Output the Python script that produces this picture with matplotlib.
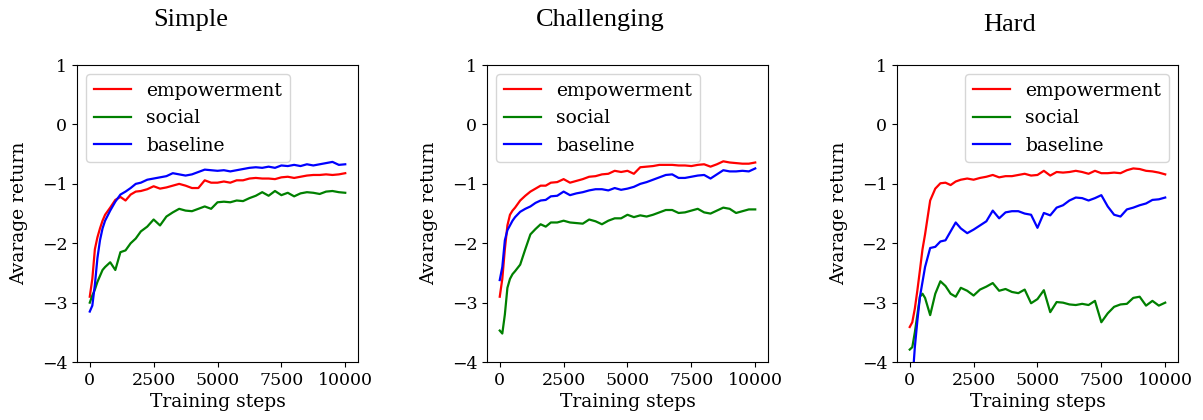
import numpy as np
import matplotlib.pyplot as plt

steps = [0, 100, 200, 300, 400, 500, 600, 800, 1000, 1200, 1400, 1600, 1800, 2000,
         2250, 2500, 2750, 3000, 3250, 3500, 3750, 4000, 4250, 4500, 4750, 5000,
         5250, 5500, 5750, 6000, 6250, 6500, 6750, 7000, 7250, 7500, 7750, 8000,
         8250, 8500, 8750, 9000, 9250, 9500, 9750, 10000]

titles = ["Simple", "Challenging", "Hard"]
labels = ["empowerment", "social", "baseline"]
colors = ["red", "green", "blue"]

# --- Simple ---
simple_emp = [-2.90, -2.60, -2.10, -1.90, -1.75, -1.62, -1.52, -1.40, -1.27, -1.22, -1.28, -1.18,
              -1.13, -1.12, -1.09, -1.04, -1.08, -1.06, -1.03, -1.00, -1.03, -1.07, -1.07, -0.94,
              -0.98, -0.98, -0.96, -0.98, -0.94, -0.94, -0.91, -0.90, -0.91, -0.91, -0.92, -0.89,
              -0.88, -0.90, -0.88, -0.86, -0.85, -0.85, -0.84, -0.85, -0.84, -0.82]
simple_soc = [-3.00, -2.88, -2.78, -2.65, -2.55, -2.45, -2.40, -2.32, -2.45, -2.15, -2.12, -2.00,
              -1.92, -1.80, -1.72, -1.60, -1.70, -1.55, -1.48, -1.42, -1.45, -1.46, -1.42, -1.38,
              -1.42, -1.31, -1.30, -1.31, -1.28, -1.29, -1.24, -1.20, -1.14, -1.20, -1.12, -1.19,
              -1.15, -1.21, -1.16, -1.14, -1.15, -1.17, -1.13, -1.12, -1.14, -1.15]
simple_base = [-3.15, -3.05, -2.70, -2.25, -1.95, -1.75, -1.62, -1.45, -1.30, -1.18, -1.13, -1.07,
               -1.00, -0.98, -0.93, -0.91, -0.89, -0.87, -0.82, -0.84, -0.86, -0.84, -0.80, -0.76,
               -0.77, -0.78, -0.77, -0.79, -0.77, -0.75, -0.73, -0.72, -0.73, -0.71, -0.73, -0.69,
               -0.70, -0.68, -0.70, -0.67, -0.69, -0.67, -0.65, -0.63, -0.68, -0.67]

# --- Challenging ---
chal_emp = [-2.90, -2.60, -2.10, -1.70, -1.52, -1.45, -1.40, -1.28, -1.20, -1.13, -1.08, -1.03,
            -1.03, -0.98, -0.97, -0.92, -0.98, -0.95, -0.92, -0.88, -0.87, -0.84, -0.83, -0.78,
            -0.80, -0.78, -0.83, -0.72, -0.71, -0.70, -0.68, -0.68, -0.68, -0.69, -0.69, -0.70,
            -0.68, -0.67, -0.71, -0.67, -0.62, -0.64, -0.65, -0.66, -0.66, -0.64]
chal_soc = [-3.47, -3.52, -3.20, -2.75, -2.60, -2.52, -2.47, -2.36, -2.10, -1.85, -1.76, -1.68,
            -1.72, -1.65, -1.65, -1.62, -1.65, -1.66, -1.67, -1.60, -1.63, -1.68, -1.62, -1.58,
            -1.58, -1.52, -1.56, -1.53, -1.55, -1.52, -1.48, -1.44, -1.44, -1.49, -1.48, -1.45,
            -1.42, -1.48, -1.50, -1.45, -1.40, -1.42, -1.49, -1.46, -1.43, -1.43]
chal_base = [-2.62, -2.40, -1.95, -1.78, -1.70, -1.62, -1.56, -1.47, -1.42, -1.38, -1.32, -1.28,
             -1.27, -1.21, -1.20, -1.13, -1.19, -1.16, -1.14, -1.11, -1.09, -1.09, -1.11, -1.07,
             -1.10, -1.08, -1.05, -1.00, -0.97, -0.93, -0.89, -0.85, -0.84, -0.90, -0.90, -0.88,
             -0.86, -0.85, -0.91, -0.84, -0.77, -0.79, -0.79, -0.78, -0.79, -0.74]

# --- Hard ---
hard_emp = [-3.41, -3.33, -3.10, -2.79, -2.45, -2.10, -1.85, -1.28, -1.08, -0.99, -0.98, -1.02,
            -0.96, -0.93, -0.91, -0.93, -0.90, -0.88, -0.85, -0.89, -0.87, -0.87, -0.85, -0.83,
            -0.86, -0.85, -0.78, -0.86, -0.80, -0.81, -0.80, -0.78, -0.80, -0.83, -0.78, -0.82,
            -0.82, -0.81, -0.82, -0.77, -0.74, -0.75, -0.78, -0.79, -0.81, -0.84]
hard_soc = [-3.79, -3.75, -3.50, -3.20, -2.90, -2.85, -2.92, -3.21, -2.85, -2.64, -2.72, -2.85,
            -2.90, -2.75, -2.80, -2.88, -2.78, -2.73, -2.67, -2.80, -2.77, -2.82, -2.84, -2.78,
            -3.01, -2.94, -2.79, -3.16, -2.99, -3.00, -3.03, -3.04, -3.02, -3.04, -2.97, -3.33,
            -3.18, -3.07, -3.03, -3.02, -2.92, -2.90, -3.05, -2.97, -3.05, -3.00]
hard_base = [-4.80, -4.35, -3.75, -3.30, -2.90, -2.65, -2.40, -2.08, -2.06, -1.97, -1.95, -1.80,
             -1.65, -1.75, -1.83, -1.77, -1.70, -1.63, -1.45, -1.58, -1.48, -1.46, -1.46, -1.50,
             -1.52, -1.74, -1.49, -1.53, -1.40, -1.36, -1.28, -1.23, -1.24, -1.28, -1.24, -1.19,
             -1.38, -1.52, -1.55, -1.43, -1.40, -1.36, -1.33, -1.27, -1.26, -1.23]

series = [
    [simple_emp, simple_soc, simple_base],
    [chal_emp, chal_soc, chal_base],
    [hard_emp, hard_soc, hard_base],
]
legend_loc = ["upper left", "upper left", "upper right"]

plt.rcParams['font.family'] = 'DejaVu Serif'
plt.rcParams['font.size'] = 13.5

fig = plt.figure(figsize=(12.03, 4.2), dpi=100)
lefts = [0.064, 0.4048, 0.7456]
title_pos = [(191, 20), (600, 20), (1010, 25)]

for i in range(3):
    ax = fig.add_axes([lefts[i], 0.138, 0.2336, 0.707])
    for vals, lab, c in zip(series[i], labels, colors):
        ax.plot(steps, vals, color=c, label=lab, linewidth=1.6)
    ax.set_ylim(-4, 1)
    ax.set_yticks([-4, -3, -2, -1, 0, 1])
    ax.set_xticks([0, 2500, 5000, 7500, 10000])
    ax.tick_params(labelsize=12.5)
    ax.set_xlabel("Training steps", labelpad=3)
    ax.set_ylabel("Avarage return", labelpad=10)
    ax.legend(loc=legend_loc[i], fontsize=13.5)
    tx, ty = title_pos[i]
    fig.text(tx / 1203, 1 - ty / 420, titles[i], ha='center', va='center',
             family='Liberation Serif', fontsize=19)

fig.savefig("out.png", dpi=100)
